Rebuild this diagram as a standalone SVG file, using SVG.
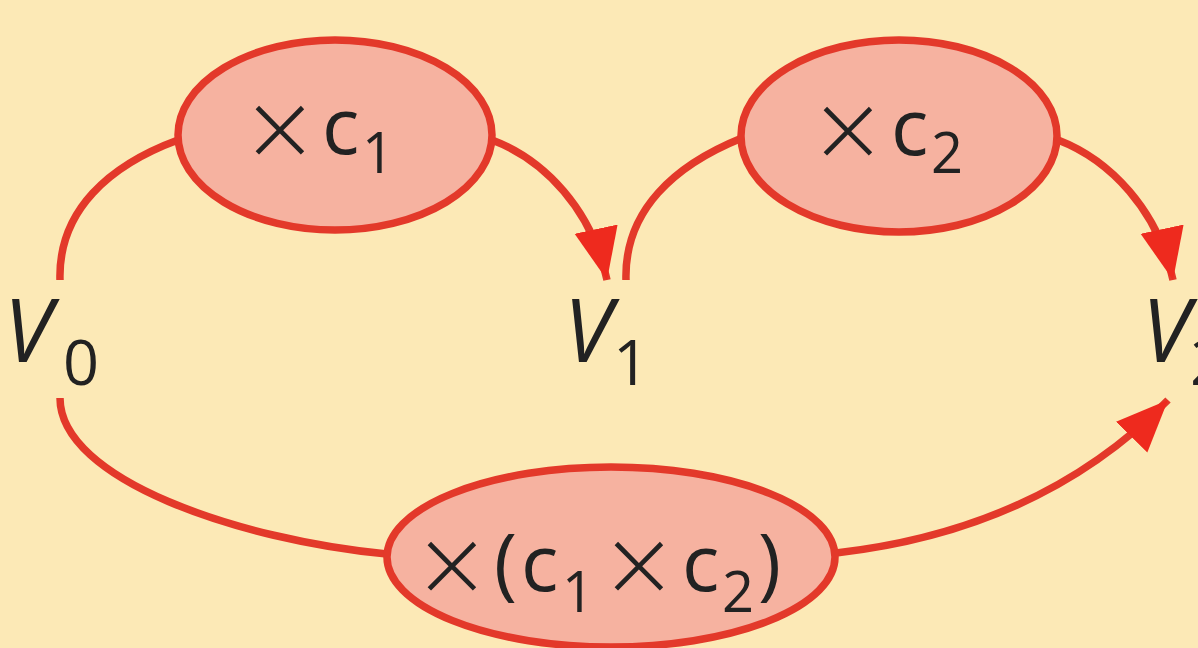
<svg xmlns="http://www.w3.org/2000/svg" width="1198" height="648" viewBox="0 0 1198 648">
<defs>
<style>
.bg{fill:#fce9b6}
.node{fill:#f6b2a0;stroke:#e3392a;stroke-width:7.5}
.edge{fill:none;stroke:#e3392a;stroke-width:7.5;stroke-linecap:butt}
.t{font-family:"Open Sans","Noto Sans","Liberation Sans",sans-serif;fill:#222;font-size:78px}
.s{font-size:56px}
.x{font-size:112px;font-weight:300}
.v{font-family:"Open Sans","Noto Sans","Liberation Sans",sans-serif;fill:#222;font-size:87px;font-style:italic}
.vs{font-size:63px;font-style:normal}
</style>
<marker id="arr" markerUnits="userSpaceOnUse" markerWidth="56" markerHeight="46" refX="52" refY="22" orient="auto">
<path d="M0,0 L52,22 L0,44 Z" fill="#ee2a1e"/>
</marker>
</defs>
<rect class="bg" x="0" y="0" width="1198" height="648"/>
<g id="connectors">
<path class="edge" d="M60,280 C58,210 110,165 178,140"/>
<path class="edge" d="M492,140 C545,160 592,210 607,280" marker-end="url(#arr)"/>
<path class="edge" d="M626,280 C624,210 675,165 742,138"/>
<path class="edge" d="M1058,140 C1110,160 1158,210 1173,280" marker-end="url(#arr)"/>
<path class="edge" d="M60,398 C60,480 240,540 387,554"/>
<path class="edge" d="M836,553 C950,540 1070,500 1168,400" marker-end="url(#arr)"/>
</g>
<g id="node-c1">
<ellipse class="node" cx="335" cy="135" rx="157" ry="95"/>
<text class="t" y="154"><tspan class="x" x="248" y="170">×</tspan><tspan x="322" y="154">c</tspan><tspan class="s" x="362" y="173">1</tspan></text>
</g>
<g id="node-c2">
<ellipse class="node" cx="899" cy="136" rx="158" ry="96"/>
<text class="t" y="155"><tspan class="x" x="816" y="171">×</tspan><tspan x="891" y="155">c</tspan><tspan class="s" x="931" y="173">2</tspan></text>
</g>
<g id="node-c1c2">
<ellipse class="node" cx="611" cy="557" rx="224" ry="90"/>
<text class="t" y="591"><tspan class="x" x="420" y="606">×</tspan><tspan x="494" y="591">(</tspan><tspan x="521">c</tspan><tspan class="s" x="562" y="612">1</tspan><tspan class="x" x="607" y="606">×</tspan><tspan x="682" y="591">c</tspan><tspan class="s" x="722" y="612">2</tspan><tspan x="758" y="591">)</tspan></text>
</g>
<g id="node-V0">
<text class="v" x="4" y="362">V<tspan class="vs" x="63" y="385">0</tspan></text>
</g>
<g id="node-V1">
<text class="v" x="564" y="362">V<tspan class="vs" x="613" y="385">1</tspan></text>
</g>
<g id="node-V2">
<text class="v" x="1142" y="362">V<tspan class="vs" x="1190" y="385">2</tspan></text>
</g>
</svg>
